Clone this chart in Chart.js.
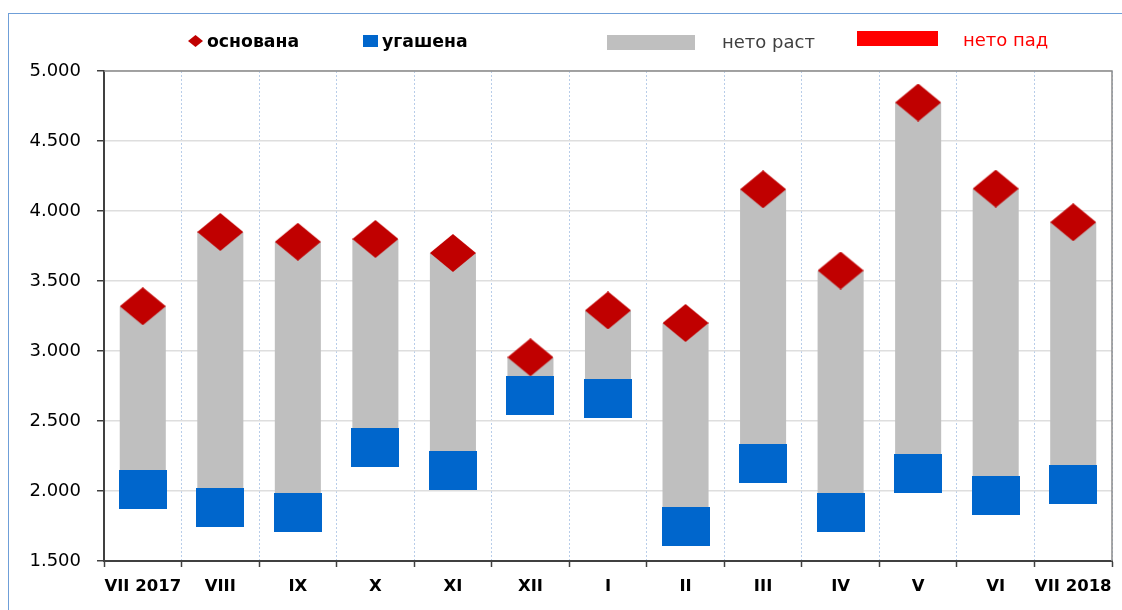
<!DOCTYPE html>
<html>
<head>
<meta charset="utf-8">
<script src="https://cdn.jsdelivr.net/npm/chart.js@4.4.0/dist/chart.umd.min.js"></script>
<style>
    html, body { margin: 0; padding: 0; background: #fff; }
    #wrap { position: relative; width: 1122px; height: 610px; overflow: hidden; }
    #frame { position: absolute; left: 8px; top: 13px; width: 1130px; height: 640px; border: 1px solid #6f9fd8; box-sizing: border-box; }
    #grafikon { position: absolute; left: 0; top: 0; }
    .leg { position: absolute; white-space: nowrap; line-height: 20px; font-family: "DejaVu Sans", sans-serif; }
    .bold { font-weight: bold; font-size: 17.3px; color: #000; }
    .norm { font-size: 18px; }
    .box { position: absolute; }
</style>
</head>
<body>
<div id="wrap">
    <div id="frame"></div>
    <canvas id="grafikon" width="1122" height="610"></canvas>

    <svg class="box" style="left:188px;top:35px" width="15" height="12"><polygon points="7.5,0 15,6 7.5,12 0,6" fill="#c00000"/></svg>
    <div class="leg bold" style="left:207px;top:31px">основана</div>
    <div class="box" style="left:363px;top:35px;width:15px;height:12px;background:#0066cc"></div>
    <div class="leg bold" style="left:382px;top:31px">угашена</div>
    <div class="box" style="left:607px;top:35px;width:88px;height:15px;background:#bfbfbf"></div>
    <div class="leg norm" style="left:722px;top:32px;color:#404040">нето раст</div>
    <div class="box" style="left:857px;top:31px;width:81px;height:15px;background:#ff0000"></div>
    <div class="leg norm" style="left:963px;top:30px;color:#ff0000">нето пад</div>
</div>

<script>
// mjeseci (VII 2017 - VII 2018)
const kategorije = ['VII 2017', 'VIII', 'IX', 'X', 'XI', 'XII', 'I', 'II', 'III', 'IV', 'V', 'VI', 'VII 2018'];
const osnovana = [3320, 3850, 3780, 3800, 3700, 2955, 3290, 3200, 4155, 3575, 4775, 4160, 3920];
const ugasena = [2010, 1880, 1850, 2310, 2145, 2685, 2660, 1750, 2200, 1850, 2125, 1965, 2050];

function napraviOznaku(w, h, boja, romb) {
    const c = document.createElement('canvas');
    c.width = w;
    c.height = h;
    const g = c.getContext('2d');
    g.fillStyle = boja;
    if (romb) {
        g.beginPath();
        g.moveTo(w / 2, 0);
        g.lineTo(w, h / 2);
        g.lineTo(w / 2, h);
        g.lineTo(0, h / 2);
        g.closePath();
        g.fill();
    } else {
        g.fillRect(0, 0, w, h);
    }
    return c;
}

function formatBroja(v) {
    return String(v).replace(/\B(?=(\d{3})+(?!\d))/g, '.');
}

// tamni okvir gore i desno od plot area
const okvir = {
    id: 'okvir',
    afterDraw(chart) {
        const a = chart.chartArea;
        const ctx = chart.ctx;
        ctx.save();
        ctx.strokeStyle = '#8c8c8c';
        ctx.lineWidth = 1.5;
        ctx.beginPath();
        ctx.moveTo(a.left, a.top);
        ctx.lineTo(a.right, a.top);
        ctx.lineTo(a.right, a.bottom);
        ctx.stroke();
        ctx.restore();
    }
};

const ctx = document.getElementById('grafikon').getContext('2d');
new Chart(ctx, {
    type: 'bar',
    data: {
        labels: kategorije,
        datasets: [
            {
                type: 'line',
                label: 'основана',
                data: osnovana,
                showLine: false,
                pointStyle: napraviOznaku(46, 38, '#c00000', true),
                pointRadius: 20,
                order: 0
            },
            {
                type: 'line',
                label: 'угашена',
                data: ugasena,
                showLine: false,
                pointStyle: napraviOznaku(48, 39, '#0066cc', false),
                pointRadius: 20,
                order: 1
            },
            {
                label: 'нето раст',
                data: kategorije.map((k, i) => [ugasena[i], osnovana[i]]),
                backgroundColor: kategorije.map((k, i) => osnovana[i] >= ugasena[i] ? '#bfbfbf' : '#ff0000'),
                categoryPercentage: 1,
                barPercentage: 0.594,
                order: 2
            }
        ]
    },
    options: {
        responsive: false,
        animation: false,
        layout: { autoPadding: false, padding: { top: 71, right: 10, left: 0, bottom: 0 } },
        plugins: {
            legend: { display: false },
            tooltip: { enabled: false }
        },
        scales: {
            x: {
                offset: true,
                afterFit: s => {
                    s.height = 49;
                    s.paddingLeft = 0;
                    s.paddingRight = 0;
                },
                grid: {
                    offset: true,
                    color: '#b8cde9',
                    tickColor: '#404040',
                    tickLength: 6,
                    tickWidth: 1.5
                },
                border: { color: '#404040', width: 2, dash: [2, 2] },
                ticks: {
                    color: '#000',
                    padding: 10,
                    maxRotation: 0,
                    autoSkip: false,
                    font: { family: 'DejaVu Sans', weight: 'bold', size: 16.5 }
                }
            },
            y: {
                min: 1500,
                max: 5000,
                afterFit: s => { s.width = 104; },
                grid: {
                    color: '#dedede',
                    tickColor: '#404040',
                    tickLength: 7,
                    lineWidth: 1.5
                },
                border: { color: '#404040', width: 2 },
                ticks: {
                    stepSize: 500,
                    color: '#000',
                    padding: 16,
                    font: { family: 'DejaVu Sans', size: 18 },
                    callback: v => formatBroja(v)
                }
            }
        }
    },
    plugins: [okvir]
});
</script>
</body>
</html>
